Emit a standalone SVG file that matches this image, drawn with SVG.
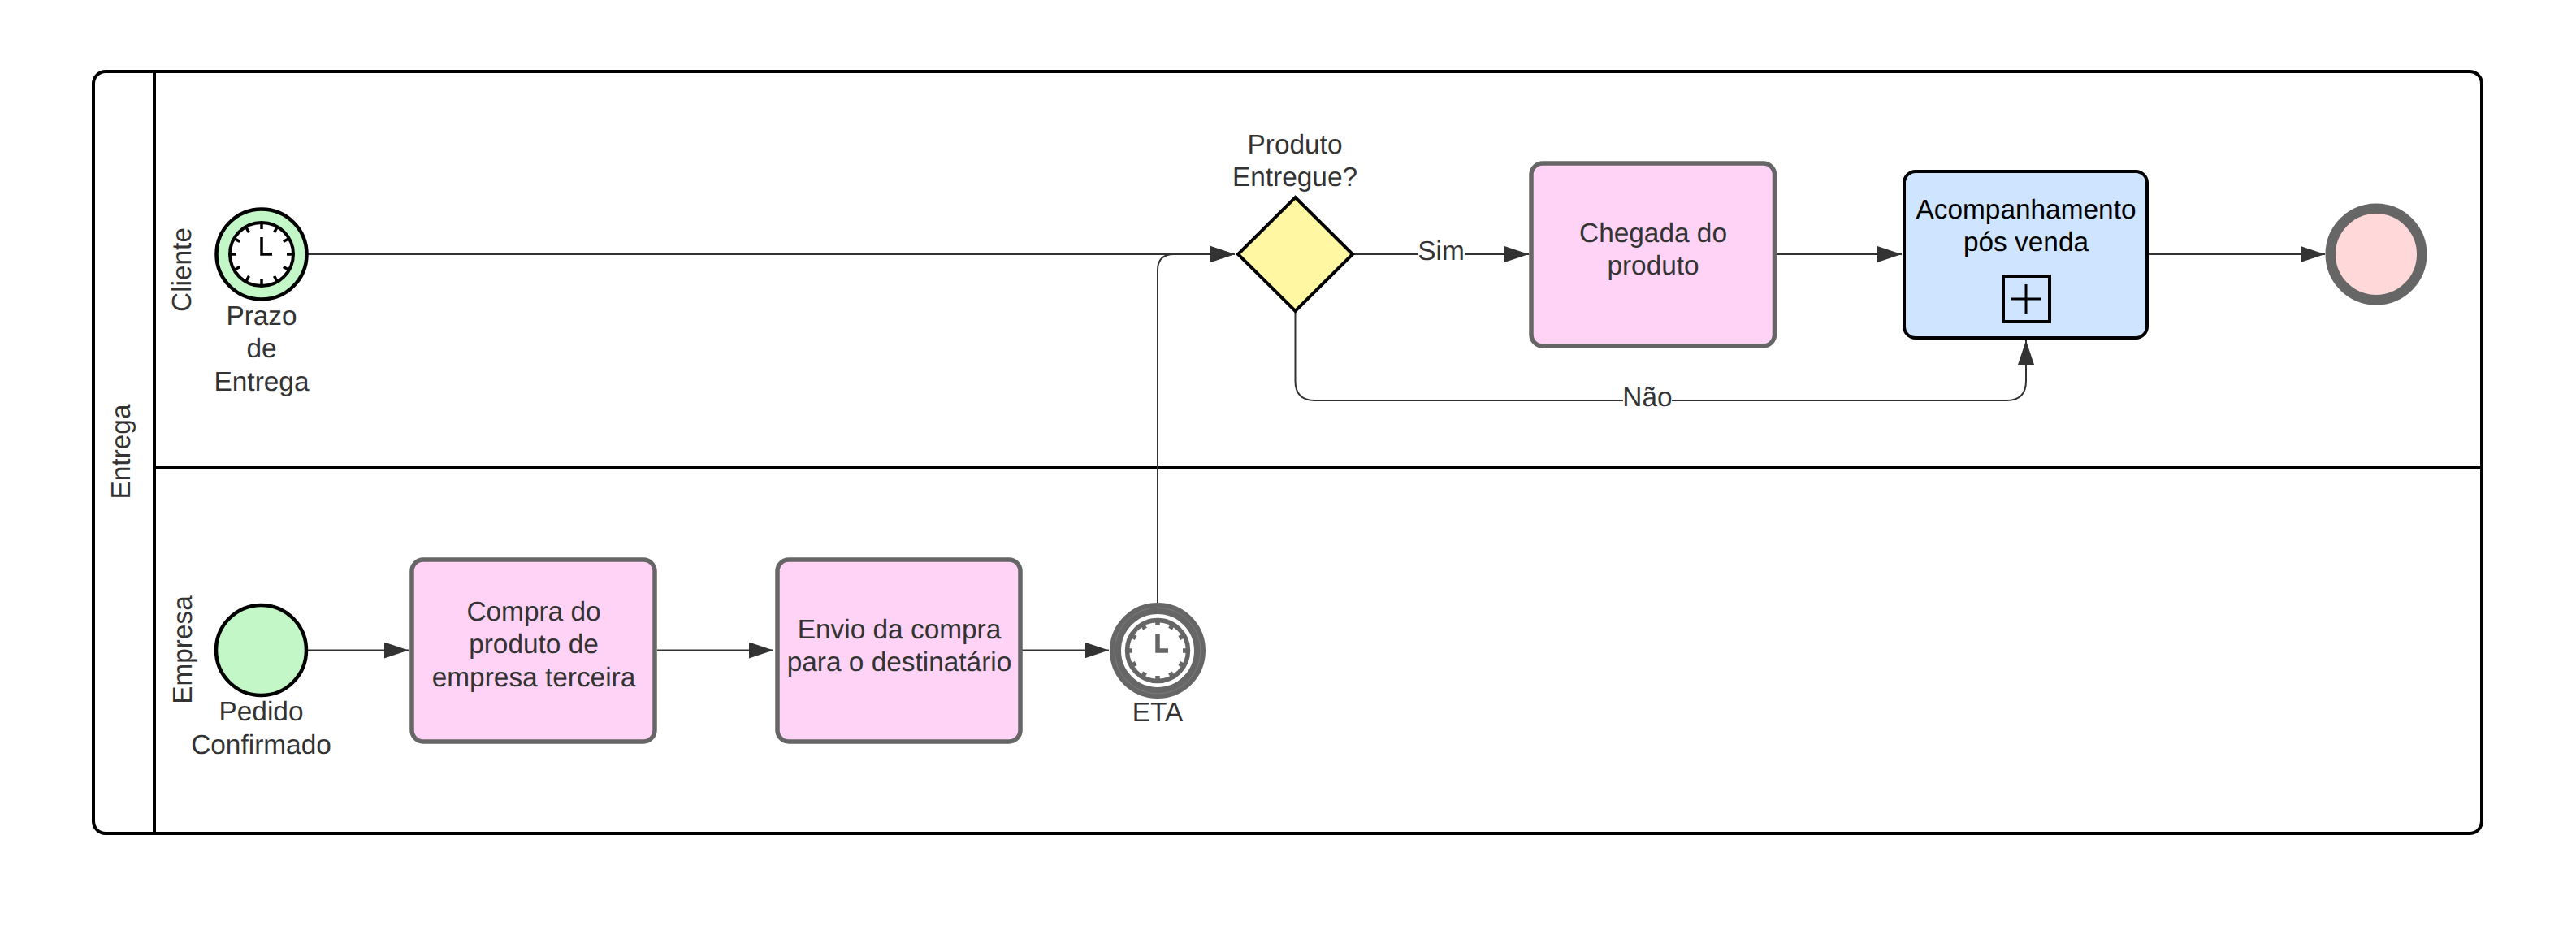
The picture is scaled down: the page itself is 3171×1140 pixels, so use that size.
<svg xmlns="http://www.w3.org/2000/svg" width="3171" height="1140" viewBox="0 0 3171 1140">
<style>
text{font-family:"Liberation Sans",Arial,sans-serif;font-size:33.4px;fill:#333;text-anchor:middle;text-rendering:geometricPrecision}
.blk{fill:#000}
.lane{fill:none;stroke:#000;stroke-width:4}
.task{fill:#ffd3f5;stroke:#666;stroke-width:5.5}
.ev{stroke:#000;stroke-width:4.5;fill:#c3f7c8}
.con{fill:none;stroke:#333;stroke-width:2;marker-end:url(#arrow)}
.plain{fill:none;stroke:#333;stroke-width:2}
</style>
<defs>
<marker id="arrow" markerUnits="userSpaceOnUse" markerWidth="30" markerHeight="20" refX="30" refY="10" orient="auto"><path d="M0 0L30 10L0 20z" fill="#333"/></marker>
<path id="clockmarks" d="M0-39V-31M19.5-33.8L15.5-26.8M33.8-19.5L26.8-15.5M39 0H31M33.8 19.5L26.8 15.5M19.5 33.8L15.5 26.8M0 39V31M-19.5 33.8L-15.5 26.8M-33.8 19.5L-26.8 15.5M-39 0H-31M-33.8-19.5L-26.8-15.5M-19.5-33.8L-15.5-26.8M0-21V0H13" fill="none"/>
</defs>
<rect width="3171" height="1140" fill="#fff"/>
<g id="pool">
<rect class="lane" x="115" y="88" width="2940" height="938" rx="15"/>
<path class="lane" d="M190 88V1026M190 576H3055"/>
<text transform="translate(160 556) rotate(-90)">Entrega</text>
<text transform="translate(235 332) rotate(-90)">Cliente</text>
<text transform="translate(236 800) rotate(-90)">Empresa</text>
</g>
<g id="connectors">
<path class="con" d="M379 313H1520"/>
<path class="con" d="M1425 742V333Q1425 313 1445 313H1520"/>
<path class="plain" d="M1665 313H1746"/>
<path class="con" d="M1803 313H1882"/>
<path class="con" d="M2186 313H2341"/>
<path class="con" d="M2644 313H2862"/>
<path class="plain" d="M1594.500 384V469Q1594.500 493 1618.500 493H1998"/>
<path class="con" d="M2058 493H2470Q2494 493 2494 469V419"/>
<path class="con" d="M378 800.500H503"/>
<path class="con" d="M809 800.500H952"/>
<path class="con" d="M1258 800.500H1365"/>
<text x="1774" y="320">Sim</text>
<text x="2028" y="500">Não</text>
</g>
<g id="start-timer">
<circle class="ev" cx="322" cy="313" r="55.500"/>
<circle cx="322" cy="313" r="39" fill="#fff" stroke="#000" stroke-width="4"/>
<use href="#clockmarks" x="322" y="313" stroke="#000" stroke-width="3.500"/>
<text x="322" y="400">Prazo</text><text x="322" y="440">de</text><text x="322" y="481">Entrega</text>
</g>
<g id="start-order">
<circle class="ev" cx="321.500" cy="800.500" r="55.500"/>
<text x="321.500" y="887">Pedido</text><text x="321.500" y="928">Confirmado</text>
</g>
<g id="task-compra">
<rect class="task" x="507" y="689" width="299" height="224" rx="14"/>
<text x="657" y="764">Compra do</text><text x="657" y="804">produto de</text><text x="657" y="845">empresa terceira</text>
</g>
<g id="task-envio">
<rect class="task" x="957" y="689" width="299" height="224" rx="14"/>
<text x="1107" y="786">Envio da compra</text><text x="1107" y="826">para o destinatário</text>
</g>
<g id="timer-eta">
<circle cx="1425" cy="801" r="52" fill="#fff" stroke="#666" stroke-width="14"/>
<circle cx="1425" cy="801" r="53" fill="none" stroke="#8a8a8a" stroke-width="0.600"/>
<circle cx="1425" cy="801" r="37.500" fill="#fff" stroke="#666" stroke-width="5.500"/>
<use href="#clockmarks" x="1425" y="801" stroke="#666" stroke-width="5.500"/>
<text x="1425" y="888">ETA</text>
</g>
<g id="gateway">
<path d="M1594.500 243L1665 313L1594.500 383L1524 313z" fill="#fff7a1" stroke="#000" stroke-width="4"/>
<text x="1594" y="189">Produto</text><text x="1594" y="229">Entregue?</text>
</g>
<g id="task-chegada">
<rect class="task" x="1885" y="201" width="299.500" height="225" rx="14"/>
<text x="2035" y="298">Chegada do</text><text x="2035" y="338">produto</text>
</g>
<g id="subprocess">
<rect x="2344" y="211" width="299" height="205" rx="14" fill="#cfe4ff" stroke="#000" stroke-width="4"/>
<text class="blk" x="2494" y="269">Acompanhamento</text><text class="blk" x="2494" y="309">pós venda</text>
<rect x="2466" y="340" width="57" height="56" fill="none" stroke="#000" stroke-width="4"/>
<path d="M2494 350V386M2476 368H2512" fill="none" stroke="#000" stroke-width="3"/>
</g>
<g id="end">
<circle cx="2925" cy="313" r="56.250" fill="#ffd9d9" stroke="#666" stroke-width="12.500"/>
</g>
</svg>
